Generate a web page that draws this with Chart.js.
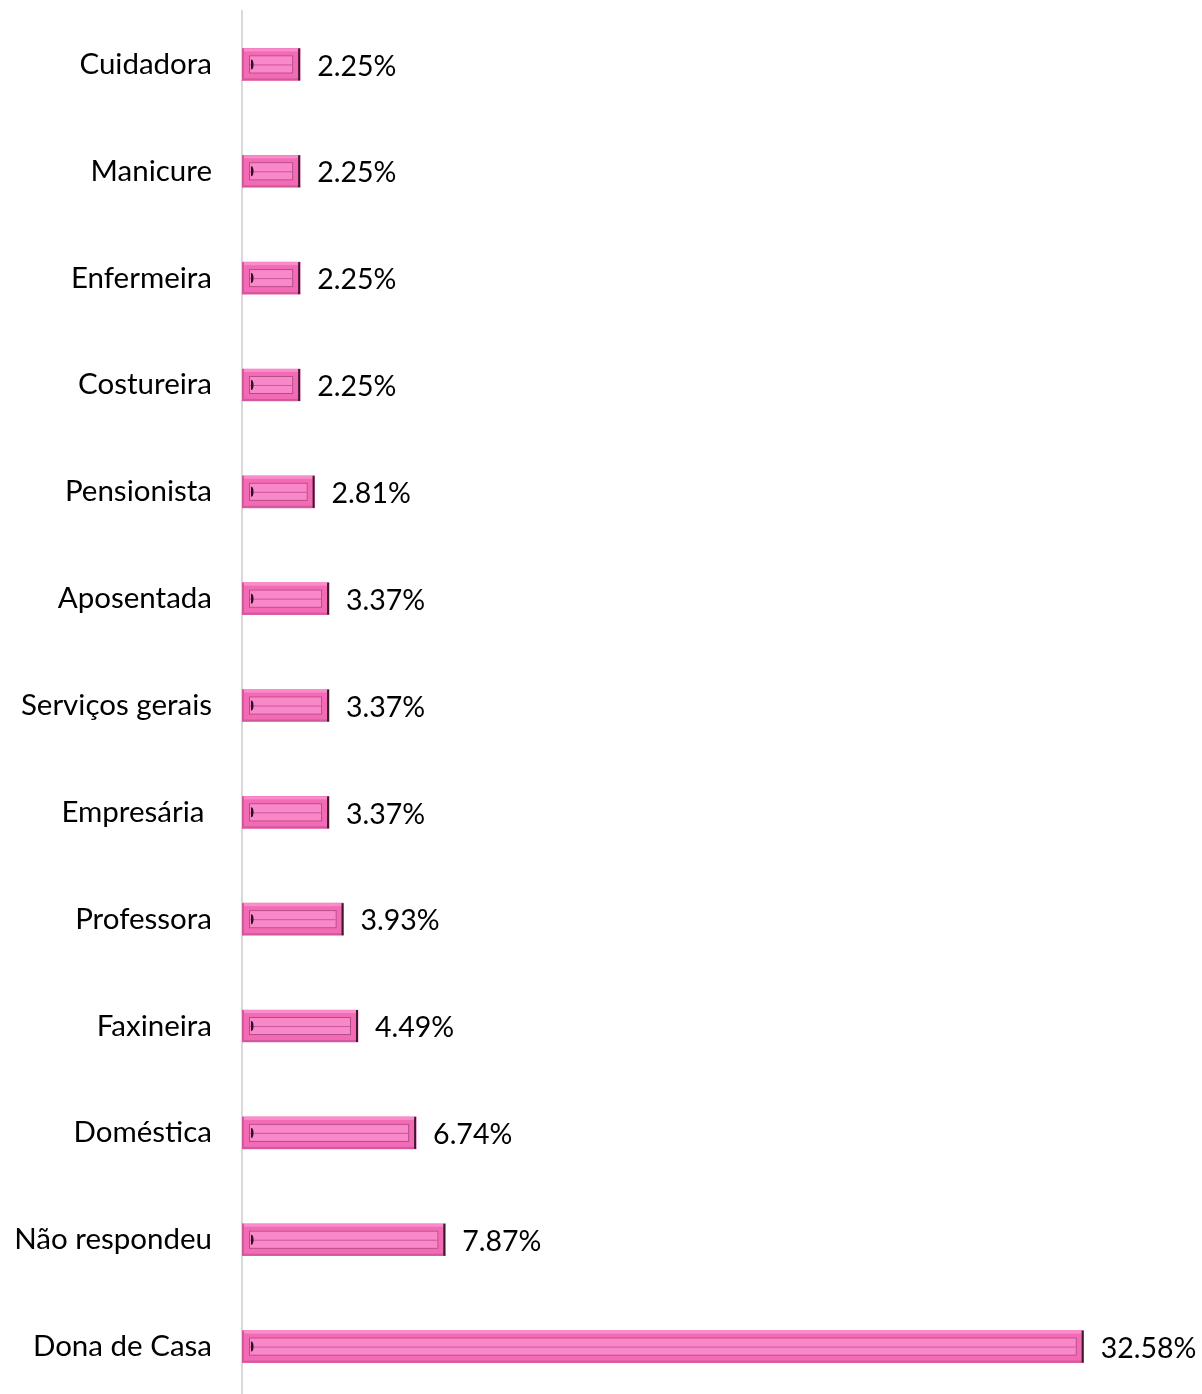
<!DOCTYPE html>
<html>
<head>
<meta charset="utf-8">
<script src="https://cdn.jsdelivr.net/npm/chart.js@4.4.1/dist/chart.umd.min.js"></script>
<style>
  html, body { margin: 0; padding: 0; background: #fff; overflow: hidden; }
  #wrap { width: 1202px; height: 1400px; position: relative; }
</style>
</head>
<body>
<div id="wrap"><canvas id="occ-chart"></canvas></div>
<script>
const categorias = [
  "Cuidadora", "Manicure", "Enfermeira", "Costureira", "Pensionista",
  "Aposentada", "Serviços gerais", "Empresária ", "Professora", "Faxineira",
  "Doméstica", "Não respondeu", "Dona de Casa"
];
const percentuais = [2.25, 2.25, 2.25, 2.25, 2.81, 3.37, 3.37, 3.37, 3.93, 4.49, 6.74, 7.87, 32.58];

const corBarra = '#f46bb5';

// desenha o efeito "bisel" por cima de cada barra
const biselPlugin = {
  id: 'bisel',
  afterDatasetsDraw(chart) {
    const ctx = chart.ctx;
    chart.getDatasetMeta(0).data.forEach(bar => {
      const p = bar.getProps(['x', 'y', 'base', 'height'], true);
      const l = p.base, r = p.x, t = p.y - p.height / 2, b = p.y + p.height / 2;
      ctx.save();
      // borda externa
      ctx.fillStyle = '#f98ccb';
      ctx.fillRect(l, t, r - l, 3);
      ctx.fillStyle = '#cf5a9a';
      ctx.fillRect(l, b - 2, r - l, 2);
      ctx.fillRect(l, t, 2, b - t);
      // retângulo interno
      const ins = 7;
      ctx.strokeStyle = '#b24c85';
      ctx.lineWidth = 1;
      ctx.strokeRect(l + ins + 0.5, t + ins + 0.5, r - l - 2 * ins - 1, b - t - 2 * ins - 1);
      ctx.fillStyle = '#f888c8';
      ctx.fillRect(l + ins + 1, t + ins + 1, r - l - 2 * ins - 2, b - t - 2 * ins - 2);
      ctx.strokeStyle = '#c9579a';
      ctx.beginPath();
      ctx.moveTo(l + ins + 1, p.y + 0.5);
      ctx.lineTo(r - ins - 1, p.y + 0.5);
      ctx.stroke();
      // marca escura à esquerda
      ctx.fillStyle = '#2a1020';
      ctx.beginPath();
      ctx.ellipse(l + ins + 2, p.y, 2.5, 5, 0, -Math.PI / 2, Math.PI / 2);
      ctx.fill();
      // borda escura à direita
      ctx.fillStyle = '#3b1a2c';
      ctx.fillRect(r - 2, t, 2, b - t);
      ctx.restore();
    });
  }
};

// rótulos de valor à direita das barras
const rotulosPlugin = {
  id: 'rotulos',
  afterDatasetsDraw(chart) {
    const ctx = chart.ctx;
    ctx.save();
    ctx.font = '28.5px Lato';
    ctx.fillStyle = '#000';
    ctx.textAlign = 'left';
    ctx.textBaseline = 'middle';
    chart.getDatasetMeta(0).data.forEach((bar, i) => {
      ctx.fillText(percentuais[i].toFixed(2) + '%', bar.x + 17, bar.y + 2);
    });
    ctx.restore();
  }
};

const ctx = document.getElementById('occ-chart').getContext('2d');

new Chart(ctx, {
  type: 'bar',
  data: {
    labels: categorias,
    datasets: [{
      data: percentuais,
      backgroundColor: corBarra,
      barThickness: 32
    }]
  },
  options: {
    indexAxis: 'y',
    responsive: true,
    maintainAspectRatio: false,
    animation: false,
    layout: { padding: { top: 11, right: 30, bottom: 0, left: 0 } },
    plugins: {
      legend: { display: false },
      tooltip: { enabled: false }
    },
    scales: {
      x: {
        display: false,
        min: 0,
        max: 36
      },
      y: {
        afterFit(scale) {
          scale.width = 242;
          scale.paddingTop = 0;
          scale.paddingBottom = 0;
        },
        grid: { display: false, drawTicks: false },
        border: { display: true, color: '#d9d9d9', width: 2 },
        ticks: {
          color: '#000',
          padding: 30,
          font: { family: 'Lato', size: 29.5 }
        }
      }
    }
  },
  plugins: [biselPlugin, rotulosPlugin]
});
</script>
</body>
</html>
